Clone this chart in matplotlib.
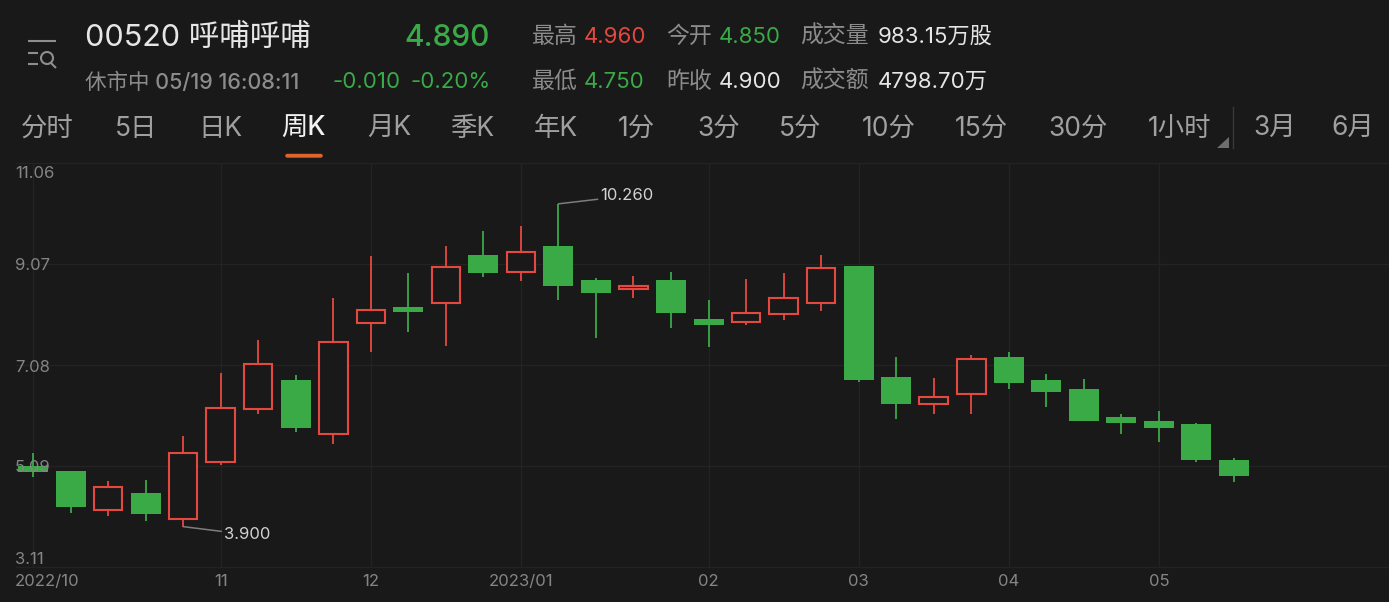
import matplotlib
matplotlib.use("Agg")
import matplotlib.pyplot as plt
from matplotlib.patches import Circle, FancyBboxPatch, Polygon

FONT = ['Inter', 'Noto Sans CJK SC', 'DejaVu Sans']
plt.rcParams['font.family'] = FONT

opens = [5.09, 5.00, 4.23, 4.57, 4.05, 5.17, 6.22, 6.79, 5.72, 7.91, 8.23, 8.30, 9.25, 8.92, 9.42, 8.75, 8.58,
         8.75, 7.99, 7.93, 8.08, 8.31, 9.03, 6.84, 6.32, 6.51, 7.24, 6.79, 6.61, 6.06, 5.99, 5.93, 5.22]
closes = [4.97, 4.29, 4.69, 4.15, 5.36, 6.24, 7.10, 5.85, 7.53, 8.17, 8.12, 9.02, 8.89, 9.32, 8.65, 8.50, 8.65,
          8.10, 7.87, 8.10, 8.40, 9.00, 6.78, 6.31, 6.45, 7.20, 6.72, 6.56, 5.99, 5.94, 5.85, 5.21, 4.89]
highs = [5.36, 5.00, 4.80, 4.82, 5.68, 6.92, 7.57, 6.88, 8.40, 9.23, 8.89, 9.43, 9.73, 9.82, 10.26, 8.80, 8.84,
         8.92, 8.36, 8.77, 8.90, 9.25, 9.03, 7.24, 6.83, 7.28, 7.34, 6.90, 6.80, 6.11, 6.17, 5.94, 5.25]
lows = [4.88, 4.16, 4.11, 4.02, 3.90, 5.12, 6.12, 5.76, 5.52, 7.35, 7.73, 7.45, 8.82, 8.73, 8.37, 7.61, 8.41,
        7.81, 7.43, 7.87, 7.97, 8.15, 6.75, 6.03, 6.12, 6.12, 6.61, 6.25, 5.99, 5.72, 5.57, 5.18, 4.77]

price_ticks = [11.06, 9.07, 7.08, 5.09, 3.11]
date_pos = [0, 5, 9, 13, 18, 22, 26, 30]
date_labels = ['2022/10', '11', '12', '2023/01', '02', '03', '04', '05']
tabs = ['分时', '5日', '日K', '周K', '月K', '季K', '年K', '1分', '3分', '5分', '10分', '15分', '30分', '1小时', '3月', '6月']
tab_x = [21, 115, 198, 281, 367, 450, 534, 618, 697, 779, 862, 955, 1048, 1148, 1253, 1331]

BG, GREEN, RED = '#19191a', '#3aaa47', '#e5483f'
GRID, TICK, LABEL, WHITE = '#232324', '#858585', '#8c8c8c', '#e6e6e6'
W, H = 1389, 602

fig = plt.figure(figsize=(W / 100, H / 100), dpi=100, facecolor=BG)

# price chart: the axes fill the figure, so limits set the pixel scale
ax = fig.add_axes([0, 0, 1, 1], facecolor=BG)
ax.set_xlim(-33 / 37.53, (W - 33) / 37.53)
ax.set_ylim(3.11 + (566.7 - H) / 50.75, 3.11 + 566.7 / 50.75)
ax.axis('off')

ax.hlines(price_ticks, -18 / 37.53, (W - 33) / 37.53, color=GRID, lw=1, zorder=1)
ax.vlines(date_pos, price_ticks[-1], price_ticks[0], color=GRID, lw=1, zorder=1)

for i, (o, c, h, l) in enumerate(zip(opens, closes, highs, lows)):
    up = c > o
    col = RED if up else GREEN
    ax.vlines(i, l, h, color=col, lw=1.3, zorder=2)
    if up:
        ax.bar(i, c - o, bottom=o, width=0.76, facecolor=BG, edgecolor=col, linewidth=1.5, zorder=3)
    else:
        ax.bar(i, o - c, bottom=c, width=0.8, color=col, linewidth=0, zorder=3)

imax = highs.index(max(highs))
imin = lows.index(min(lows))
line = dict(arrowstyle='-', color='#7d7d7d', lw=1.1, shrinkA=0, shrinkB=0)
ax.annotate(f'{highs[imax]:.3f}', (imax, highs[imax]), xytext=(42, 8), textcoords='offset pixels',
            color='#d2d2d2', fontsize=12, va='center', ha='left', arrowprops=line, zorder=5)
ax.annotate(f'{lows[imin]:.3f}', (imin, lows[imin]), xytext=(41, -8), textcoords='offset pixels',
            color='#d2d2d2', fontsize=12, va='center', ha='left', arrowprops=line, zorder=5)

# header and axis text, positioned in pixels on an overlay
ui = fig.add_axes([0, 0, 1, 1], facecolor='none')
ui.set_xlim(0, W)
ui.set_ylim(H, 0)
ui.axis('off')


def t(x, y, s, color=LABEL, size=16.5, ha='left', weight='normal'):
    ui.text(x, y, s, color=color, fontsize=size, ha=ha, va='center', fontweight=weight)


for tick, y in zip(price_ticks, [174, 266, 367, 467, 559]):
    t(15, y, f'{tick:.2f}', TICK, 12)
for pos, lab in zip(date_pos, date_labels):
    px = 33 + 37.53 * pos
    if pos == 0:
        t(15, 581, lab, TICK, 12)
    else:
        t(px, 581, lab, TICK, 12, ha='center')

t(85, 38, '00520 呼哺呼哺', WHITE, 22)
t(490, 38, '4.890', GREEN, 21.5, ha='right', weight='medium')
t(85, 83, '休市中 05/19 16:08:11', LABEL, 15.5, weight='medium')
t(333, 82, '-0.010', GREEN, 16)
t(411, 82, '-0.20%', GREEN, 16)

t(532, 37, '最高'); t(584, 37, '4.960', RED, 16)
t(532, 82, '最低'); t(584, 82, '4.750', GREEN, 16)
t(666, 37, '今开'); t(719, 37, '4.850', GREEN, 16)
t(666, 82, '昨收'); t(719, 82, '4.900', WHITE, 16)
t(800, 37, '成交量'); t(878, 37, '983.15万股', WHITE, 16)
t(800, 82, '成交额'); t(878, 82, '4798.70万', WHITE, 16)

for x, s in zip(tab_x, tabs):
    active = s == '周K'
    t(x, 129, s, '#f2f2f2' if active else '#a0a0a0', 19, weight='medium' if active else 'normal')

ui.add_patch(FancyBboxPatch((286, 154.5), 36, 2.5, boxstyle='round,pad=0,rounding_size=1.2',
                            facecolor='#e2632a', edgecolor='#e2632a', lw=1))
ui.plot([1233, 1233], [107, 148], color='#38383a', lw=1)
ui.add_patch(Polygon([[1229, 137], [1229, 148], [1217, 148]], closed=True, facecolor='#6e6e6e', edgecolor='none'))

# menu/search icon
ic = '#8e8e8e'
ui.plot([28, 56], [41, 41], color=ic, lw=1.5, solid_capstyle='butt')
ui.plot([28, 38], [53, 53], color=ic, lw=1.5, solid_capstyle='butt')
ui.plot([28, 38], [64, 64], color=ic, lw=1.5, solid_capstyle='butt')
ui.add_patch(Circle((47, 58), 6, facecolor='none', edgecolor=ic, lw=1.5))
ui.plot([51, 56], [63, 68], color=ic, lw=1.5, solid_capstyle='butt')

fig.savefig('out.png', dpi=100, facecolor=BG)
